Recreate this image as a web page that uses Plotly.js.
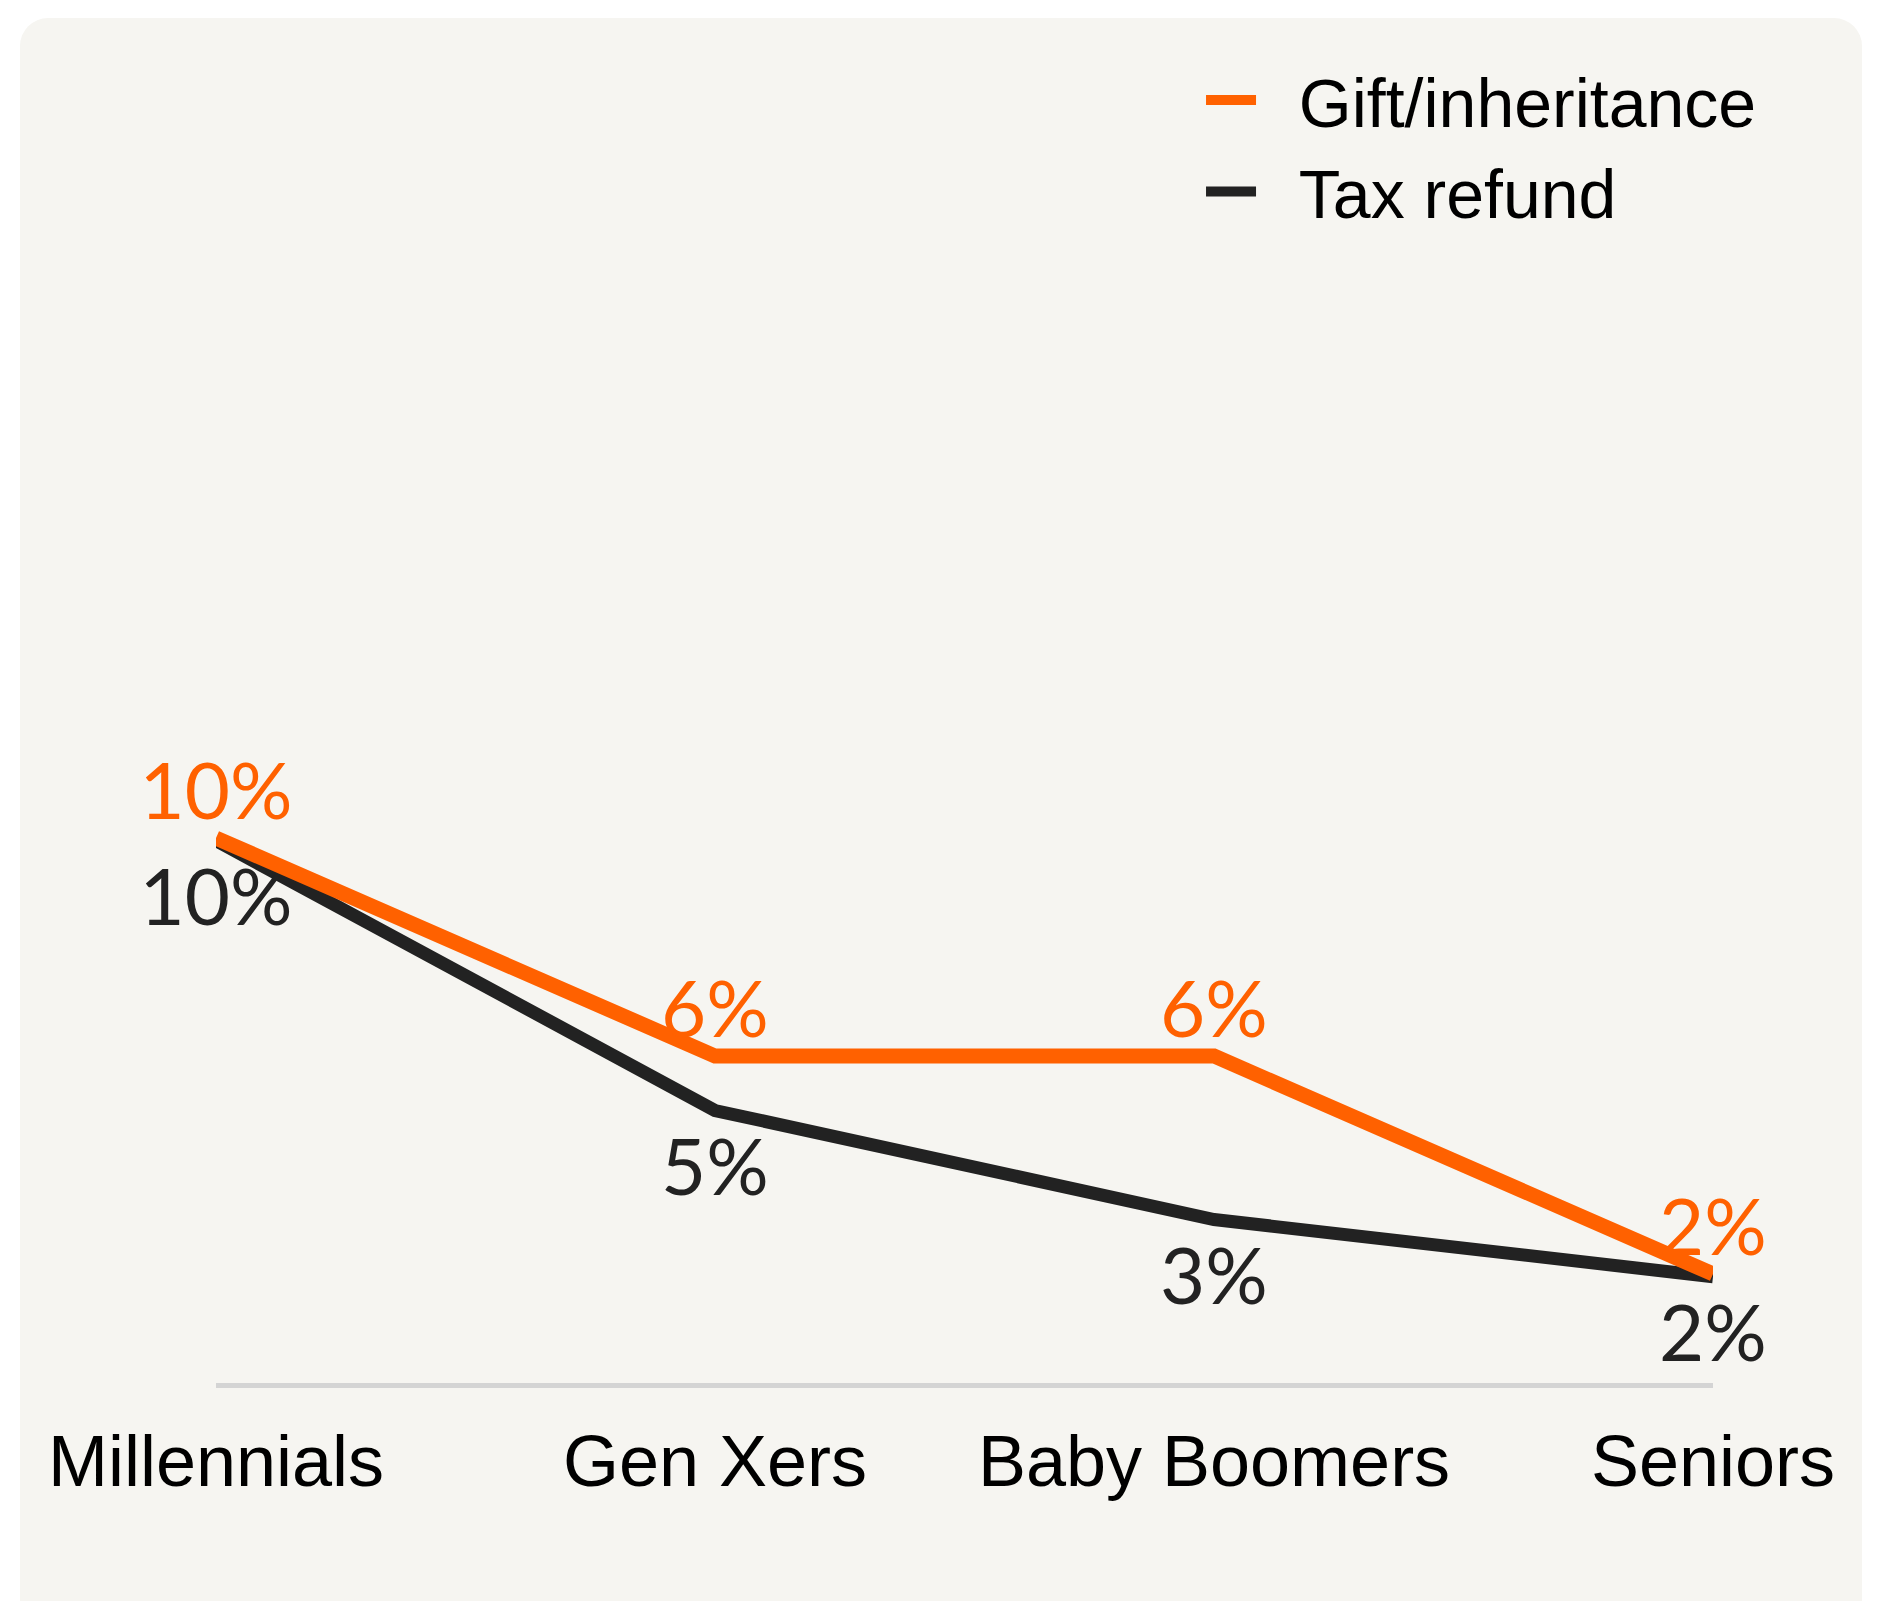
<!DOCTYPE html>
<html>
<head>
<meta charset="utf-8">
<script src="https://cdn.plot.ly/plotly-3.0.1.min.js"></script>
<style>
  html, body { margin: 0; padding: 0; background: #ffffff; width: 1878px; height: 1601px; overflow: hidden; }
  #card { position: absolute; left: 20px; top: 18px; width: 1842px; height: 1640px; background: #f6f5f1; border-radius: 28px; }
  #chart { position: absolute; left: 0; top: 0; width: 1878px; height: 1601px; }
</style>
</head>
<body>
<div id="card"></div>
<div id="chart"></div>
<script>
const categories = ["Millennials", "Gen Xers", "Baby Boomers", "Seniors"];
const giftInheritance = [10.0, 6.0, 6.0, 2.0];
const taxRefund = [9.95, 5.0, 3.0, 1.95];
const giftLabels = ["10%", "6%", "6%", "2%"];
const taxLabels = ["10%", "5%", "3%", "2%"];
const seriesNames = ["Gift/inheritance", "Tax refund"];

const labelFont = "Lato, 'Open Sans', sans-serif";
const mainFont = "'Liberation Sans', Arial, Helvetica, sans-serif";
const gap = "\u00a0\u00a0";

const traces = [
  {
    x: categories, y: taxRefund, name: gap + seriesNames[1],
    type: "scatter", mode: "lines+markers+text",
    line: { color: "#222222", width: 13 },
    marker: { size: 40, color: "rgba(0,0,0,0)", line: { width: 0 } },
    text: taxLabels, textposition: "bottom center",
    textfont: { family: labelFont, size: 78, color: "#222222" },
    legendrank: 2, hoverinfo: "skip", cliponaxis: false
  },
  {
    x: categories, y: giftInheritance, name: gap + seriesNames[0],
    type: "scatter", mode: "lines+text",
    line: { color: "#ff6100", width: 15 },
    text: giftLabels, textposition: "top center",
    textfont: { family: labelFont, size: 78, color: "#ff6100" },
    legendrank: 1, hoverinfo: "skip", cliponaxis: false
  }
];

const layout = {
  width: 1878, height: 1601,
  paper_bgcolor: "rgba(0,0,0,0)",
  plot_bgcolor: "rgba(0,0,0,0)",
  margin: { l: 216, r: 165, t: 293, b: 218, pad: 0 },
  showlegend: true,
  legend: {
    x: 0.658, xanchor: "left", y: 1.2235, yanchor: "top",
    font: { family: mainFont, size: 68, color: "#000000" },
    bgcolor: "rgba(0,0,0,0)", tracegroupgap: 0, itemwidth: 50
  },
  xaxis: {
    type: "category", range: [0, 3], fixedrange: true,
    showgrid: false, zeroline: false,
    showline: true, linecolor: "#d4d4d4", linewidth: 5,
    ticks: "outside", ticklen: 12, tickcolor: "rgba(0,0,0,0)",
    tickfont: { family: mainFont, size: 72, color: "#000000" }
  },
  yaxis: {
    range: [0, 20], visible: false, fixedrange: true,
    showgrid: false, zeroline: false
  }
};

Plotly.newPlot("chart", traces, layout, { displayModeBar: false, staticPlot: true });
</script>
</body>
</html>
